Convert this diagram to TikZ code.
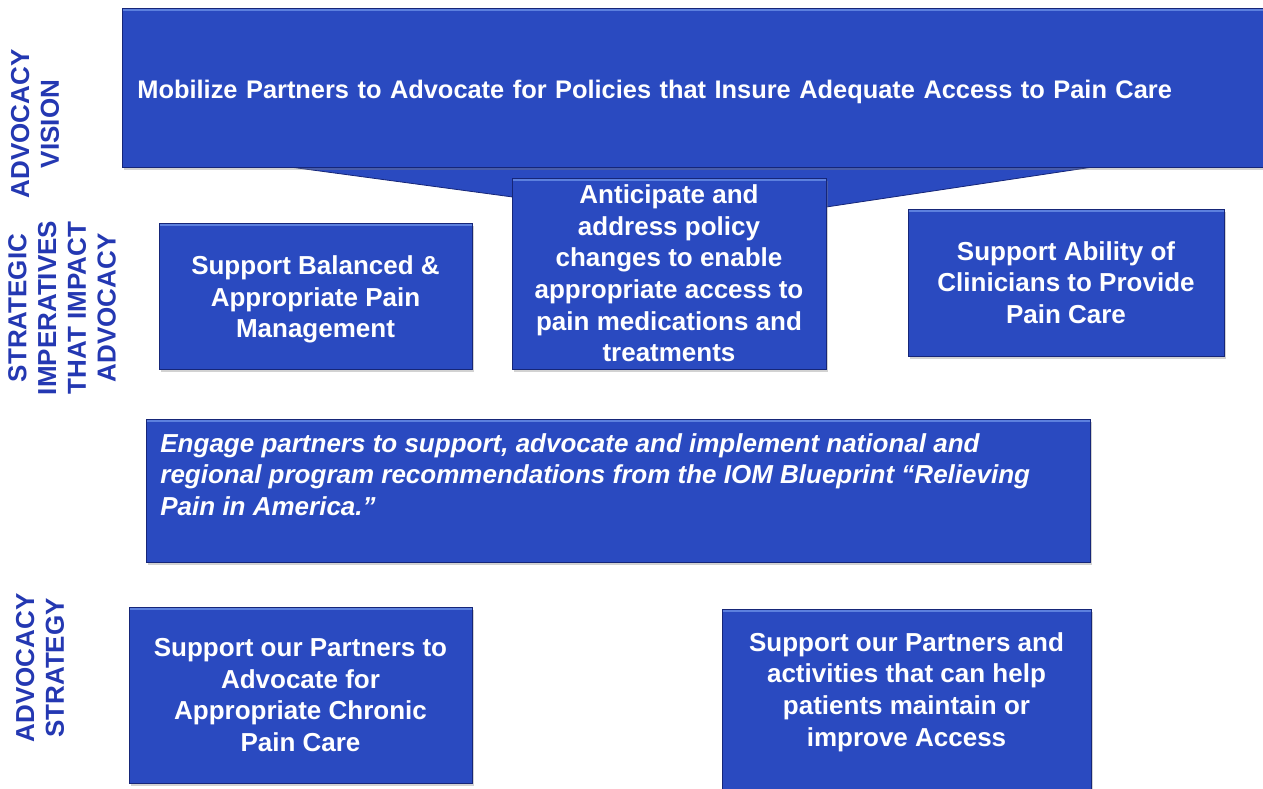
\documentclass[tikz,border=0pt]{standalone}
\usepackage{fontspec}
\setmainfont{Liberation Sans}
\usetikzlibrary{shadows}

\definecolor{boxblue}{RGB}{42,74,192}
\definecolor{boxedge}{RGB}{22,38,120}
\definecolor{boxlight}{RGB}{92,128,222}
\definecolor{sideblue}{RGB}{36,56,178}

\begin{document}
\begin{tikzpicture}[x=1pt,y=-1pt]
      \tikzstyle{box}=[draw=boxedge,line width=0.8pt,fill=boxblue,text=white,
        font=\fontsize{26}{31.6}\selectfont\bfseries,align=center,inner sep=0pt,
        drop shadow={shadow xshift=1.5pt,shadow yshift=-3pt,opacity=0.35},
        path picture={\fill[boxlight] (path picture bounding box.north west)
          rectangle ([yshift=-3pt]path picture bounding box.north east);}];
      \tikzstyle{side}=[text=sideblue,font=\fontsize{26}{29.7}\selectfont\bfseries,
        align=center,rotate=90];

      \fill[white] (0,0) rectangle (1263,789);
      \useasboundingbox (0,0) rectangle (1263,789);

      % row labels
      \node[side](lvision) at (35,124) {ADVOCACY\\VISION};
      \node[side](limper) at (62,308) {STRATEGIC\\IMPERATIVES\\THAT IMPACT\\ADVOCACY};
      \node[side](lstrat) at (40,668) {ADVOCACY\\STRATEGY};

      % pointer under the vision bar
      \filldraw[fill=boxblue,draw=boxedge,line width=0.8pt] (290,160) -- (290,167) -- (713,224) -- (1093,167) -- (1093,160) -- cycle;

      \node[box,anchor=north west,minimum width=1160pt,minimum height=159pt,
        text width=1130pt,align=left,inner xsep=14pt,font=\fontsize{25.4}{30}\selectfont\bfseries](vision) at (122,8)
        {\raisebox{-4pt}[\height][\depth]{Mobilize Partners to Advocate for Policies that Insure Adequate Access to Pain Care}};

      \node[box,minimum width=313pt,minimum height=146pt](balanced) at (315.5,296)
        {\raisebox{-4pt}[\height][\depth]{\begin{tabular}{@{}c@{}}Support Balanced \&\\Appropriate Pain\\Management\end{tabular}}};
      \node[box,minimum width=314pt,minimum height=191pt](anticipate) at (669,273.5)
        {Anticipate and\\address policy\\changes to enable\\appropriate access to\\pain medications and\\treatments};
      \node[box,minimum width=316pt,minimum height=147pt](ability) at (1066,282.5)
        {Support Ability of\\Clinicians to Provide\\Pain Care};

      \node[box,anchor=north west,inner xsep=14pt,inner ysep=14pt](engage) at (146,419)
        {\parbox[c][115pt][t]{916pt}{\raggedright\itshape Engage partners to support, advocate and implement national and
        regional program recommendations from the IOM Blueprint “Relieving Pain in America.”}};

      \node[box,minimum width=343pt,minimum height=176pt](advocate) at (300.5,695)
        {Support our Partners to\\Advocate for\\Appropriate Chronic\\Pain Care};
      \node[box,anchor=north,inner xsep=10pt,inner ysep=23pt](access) at (906.5,609)
        {\parbox[c][160pt][t]{349pt}{\centering Support our Partners and\\activities that can help\\patients maintain or\\improve Access}};

    \end{tikzpicture}
\end{document}
